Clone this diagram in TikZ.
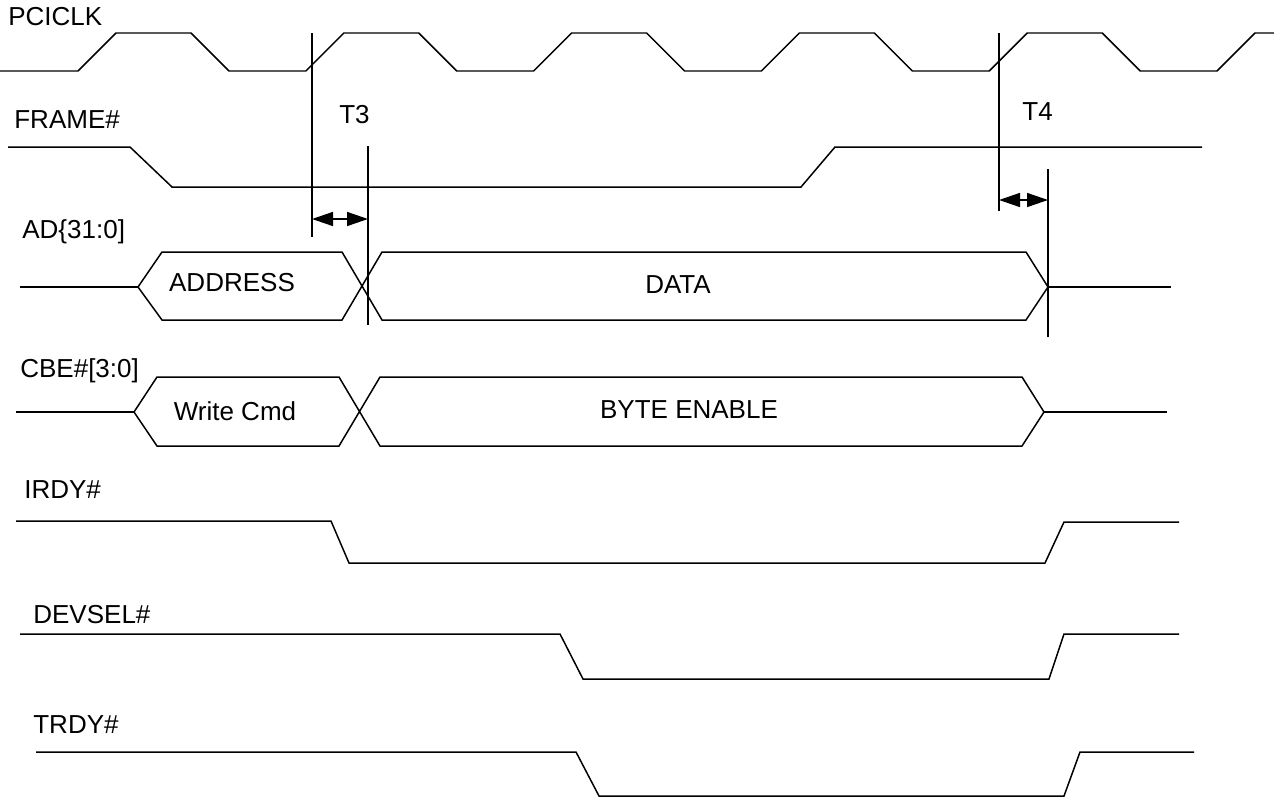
\documentclass[tikz,border=0pt]{standalone}
\usepackage{fontspec}
\setmainfont{Liberation Sans}
\usetikzlibrary{arrows.meta}

\begin{document}
\begin{tikzpicture}[
    x=0.02cm, y=-0.02cm,
    font=\fontsize{14.8}{17}\selectfont,
    sig/.style={draw=black, line width=0.85pt, line join=miter},
    markline/.style={draw=black, line width=1pt},
    siglabel/.style={anchor=base west, inner sep=0pt},
    buslabel/.style={anchor=base, inner sep=0pt},
    arr/.style={{Triangle[length=4.2mm, width=2.8mm]}-{Triangle[length=4.2mm, width=2.8mm]}, line width=0.85pt}
]
\useasboundingbox (0,0) rectangle (1274,798);

% signal names
\node[siglabel] (clk) at (8,25) {PCICLK};
\node[siglabel] (frame) at (14,128) {FRAME\#};
\node[siglabel] (ad) at (22,238) {AD\{31:0]};
\node[siglabel] (cbe) at (20,377) {CBE\#[3:0]};
\node[siglabel] (irdy) at (24,498) {IRDY\#};
\node[siglabel] (devsel) at (33,623) {DEVSEL\#};
\node[siglabel] (trdy) at (33,733) {TRDY\#};

% clock
\draw[sig] (0,71) -- (78,71)
    \foreach \i in {1,...,5}{ -- ++(38,-38) -- ++(75,0) -- ++(38,38) -- ++(76.8,0) }
    -- ++(38,-38) -- (1274,33);

% FRAME#
\draw[sig] (8,147) -- (130,147) -- (172,187) -- (801,187) -- (835,147) -- (1202,147);

% AD bus
\draw[sig] (20,287) -- (138,287);
\draw[sig] (138,287) -- (162,252) -- (342,252) -- (382,320) -- (1026,320)
    -- (1048,287) -- (1026,252) -- (382,252) -- (342,320) -- (162,320) -- cycle;
\draw[sig] (1048,287) -- (1171,287);
\node[buslabel] (addr) at (232,291) {ADDRESS};
\node[buslabel] (data) at (678,293) {DATA};

% CBE bus
\draw[sig] (16,412) -- (134,412);
\draw[sig] (134,412) -- (157,377) -- (339,377) -- (380,446) -- (1022,446)
    -- (1044,412) -- (1022,377) -- (380,377) -- (339,446) -- (157,446) -- cycle;
\draw[sig] (1044,412) -- (1167,412);
\node[buslabel] (cmd) at (235,420) {Write Cmd};
\node[buslabel] (be) at (689,418) {BYTE ENABLE};

% IRDY#, DEVSEL#, TRDY#
\draw[sig] (16,521) -- (331,521) -- (349,563) -- (1045,563) -- (1064,522) -- (1179,522);
\draw[sig] (20,634) -- (560,634) -- (583,679) -- (1049,679) -- (1064,634) -- (1179,634);
\draw[sig] (36,752) -- (576,752) -- (599,796) -- (1064,796) -- (1080,752) -- (1194,752);

% T3
\draw[markline] (312,33) -- (312,237);
\draw[markline] (368,146) -- (368,325);
\coordinate (t3a) at (312,219);
\coordinate (t3b) at (368,219);
\draw[arr] (t3a) -- (t3b);
\node[siglabel] (t3) at (339,123) {T3};

% T4
\draw[markline] (999,33) -- (999,211);
\draw[markline] (1048,169) -- (1048,337);
\coordinate (t4a) at (999,200);
\coordinate (t4b) at (1048,200);
\draw[arr] (t4a) -- (t4b);
\node[siglabel] (t4) at (1022,120) {T4};
\end{tikzpicture}
\end{document}
